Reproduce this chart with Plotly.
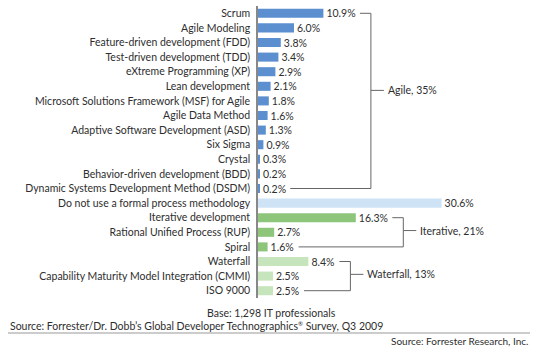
import plotly.graph_objects as go

categories = [
    "Scrum", "Agile Modeling", "Feature-driven development (FDD)",
    "Test-driven development (TDD)", "eXtreme Programming (XP)", "Lean development",
    "Microsoft Solutions Framework (MSF) for Agile", "Agile Data Method",
    "Adaptive Software Development (ASD)", "Six Sigma", "Crystal",
    "Behavior-driven development (BDD)", "Dynamic Systems Development Method (DSDM)",
    "Do not use a formal process methodology",
    "Iterative development", "Rational Unified Process (RUP)", "Spiral",
    "Waterfall", "Capability Maturity Model Integration (CMMI)", "ISO 9000",
]
values = [10.9, 6.0, 3.8, 3.4, 2.9, 2.1, 1.8, 1.6, 1.3, 0.9, 0.3, 0.2, 0.2,
          30.6, 16.3, 2.7, 1.6, 8.4, 2.5, 2.5]
groups = ["agile"] * 13 + ["none"] + ["iter"] * 3 + ["water"] * 3
group_labels = {"agile": "Agile, 35%", "iter": "Iterative, 21%", "water": "Waterfall, 13%"}
colors = {"agile": "#5b8fd0", "none": "#cfe3f7", "iter": "#8dc67a", "water": "#c7e5bd"}

W, H = 540, 354
plot_l, plot_t, plot_b = 258, 6, 298
xmax = 47.0
px = xmax / (W - plot_l)  # data units per pixel

font_fam = "Lato, 'Open Sans', sans-serif"
fs = 10.5
txt_col = "#2e2e2e"
line_col = "#666666"

fig = go.Figure()
fig.add_trace(go.Bar(
    y=list(range(len(categories))), x=values, orientation="h",
    marker=dict(color=[colors[g] for g in groups], line=dict(width=0)),
    width=0.62,
    text=[f"{v:.1f}%" for v in values], textposition="outside",
    constraintext="none",
    textfont=dict(family=font_fam, size=fs, color=txt_col),
    cliponaxis=False, hoverinfo="skip",
))

def label_w(s):
    return len(s) * 5.5

shapes = []
annotations = []
for g in ["agile", "iter", "water"]:
    idx = [i for i, gg in enumerate(groups) if gg == g]
    ends = [values[i] + (3 + label_w(f"{values[i]:.1f}%") + 6) * px for i in idx]
    first, last = idx[0], idx[-1]
    bx = max(ends) + 11 * px
    ymid = first + 0.44 * (last - first)
    for i, e in zip([first, last], [ends[0], ends[-1]]):
        shapes.append(dict(type="line", xref="x", yref="y", x0=e, x1=bx, y0=i, y1=i,
                           line=dict(color=line_col, width=1)))
    shapes.append(dict(type="line", xref="x", yref="y", x0=bx, x1=bx, y0=first, y1=last,
                       line=dict(color=line_col, width=1)))
    shapes.append(dict(type="line", xref="x", yref="y", x0=bx, x1=bx + 13 * px, y0=ymid, y1=ymid,
                       line=dict(color=line_col, width=1)))
    annotations.append(dict(x=bx + 15 * px, y=ymid, xref="x", yref="y", text=group_labels[g],
                            showarrow=False, xanchor="left", yanchor="middle",
                            font=dict(family=font_fam, size=fs, color=txt_col)))

def px_x(p):
    return p / W

def px_y(p):
    return 1 - p / H

shapes.append(dict(type="line", xref="paper", yref="paper", x0=px_x(8), x1=px_x(530),
                   y0=px_y(333), y1=px_y(333), line=dict(color="#999999", width=1)))
annotations += [
    dict(x=px_x(271), y=px_y(313), xref="paper", yref="paper", showarrow=False,
         xanchor="center", yanchor="middle", text="Base: 1,298 IT professionals",
         font=dict(family=font_fam, size=fs, color=txt_col)),
    dict(x=px_x(8), y=px_y(325.5), xref="paper", yref="paper", showarrow=False,
         xanchor="left", yanchor="middle",
         text="Source: Forrester/Dr. Dobb’s Global Developer Technographics<sup><span style='font-size:6px'>®</span></sup> Survey, Q3 2009",
         font=dict(family=font_fam, size=fs, color=txt_col)),
    dict(x=px_x(530), y=px_y(341), xref="paper", yref="paper", showarrow=False,
         xanchor="right", yanchor="middle", text="Source: Forrester Research, Inc.",
         font=dict(family=font_fam, size=10, color=txt_col)),
]

fig.update_layout(
    width=W, height=H, margin=dict(l=0, r=0, t=0, b=0),
    paper_bgcolor="white", plot_bgcolor="white", showlegend=False,
    bargap=0.38,
    xaxis=dict(domain=[plot_l / W, 1], range=[0, xmax], visible=False, fixedrange=True),
    yaxis=dict(domain=[1 - plot_b / H, 1 - plot_t / H], range=[len(categories) - 0.5, -0.5],
               tickmode="array", tickvals=list(range(len(categories))), ticktext=categories,
               showline=True, linecolor="#888888", linewidth=1.5, showgrid=False,
               zeroline=False, ticks="", ticklabelstandoff=4,
               tickfont=dict(family=font_fam, size=fs, color=txt_col), fixedrange=True),
    shapes=shapes, annotations=annotations,
)

fig.write_html("out.html", config={"displayModeBar": False})
